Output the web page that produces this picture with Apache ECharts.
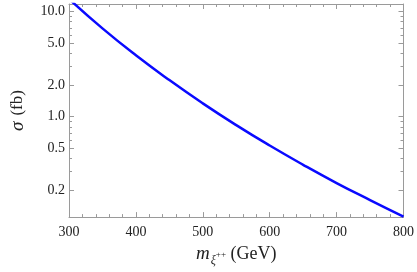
<!DOCTYPE html>
<html>
<head>
<meta charset="utf-8">
<script src="https://cdn.jsdelivr.net/npm/echarts@6/dist/echarts.min.js"></script>
<style>html,body{margin:0;padding:0;background:#fff}#c{width:417px;height:272px}</style>
</head>
<body>
<div id="c"></div>
<script>
// Data
var masses = [300, 350, 400, 450, 500, 550, 600, 650, 700, 750, 800];          // GeV
var sigma  = [13.18, 6.92, 3.84, 2.23, 1.34, 0.832, 0.532, 0.349, 0.234, 0.161, 0.112]; // fb
var yMajorTicks = [0.2, 0.5, 1, 2, 5, 10];
var yMajorLabels = ['0.2', '0.5', '1.0', '2.0', '5.0', '10.0'];
var yMinorTicks = [0.3, 0.4, 0.6, 0.7, 0.8, 0.9, 3, 4, 6, 7, 8, 9];
var xTicks = [300, 400, 500, 600, 700, 800];
var yRange = [0.111, 11.8];

var L = Math.log10;
var lineData = masses.map(function (m, i) { return [m, L(sigma[i])]; });
var majLog = yMajorTicks.map(L);
var minLog = yMinorTicks.map(L);

var axisCol = '#9a9a9a';
var font = "'Liberation Serif', 'DejaVu Serif', serif";

function yAx(pos, ticks, len, labels, line) {
  var ax = {
    type: 'value', position: pos,
    min: L(yRange[0]), max: L(yRange[1]),
    axisLine: { show: line, lineStyle: { color: axisCol, width: 1 } },
    axisTick: { show: true, inside: true, length: len, customValues: ticks, lineStyle: { color: axisCol } },
    axisLabel: { show: labels, customValues: ticks, margin: 4, color: '#222', fontFamily: font, fontSize: 14,
      formatter: function (v) {
        for (var i = 0; i < majLog.length; i++) if (Math.abs(majLog[i] - v) < 1e-6) return yMajorLabels[i];
        return '';
      } },
    splitLine: { show: false }
  };
  return ax;
}
function xAx(pos, labels) {
  return {
    type: 'value', position: pos, min: 300, max: 800, interval: 100,
    axisLine: { show: true, onZero: false, lineStyle: { color: axisCol, width: 1 } },
    axisTick: { show: true, inside: true, length: 5, lineStyle: { color: axisCol } },
    minorTick: { show: true, splitNumber: 5, length: 3, lineStyle: { color: axisCol } },
    axisLabel: { show: labels, margin: 8, color: '#222', fontFamily: font, fontSize: 14,
      formatter: function (v) { return xTicks.indexOf(v) >= 0 ? String(v) : ''; } },
    splitLine: { show: false }
  };
}

var yAxes = [
  yAx('left', majLog, 5, true, true),
  yAx('left', minLog, 3, false, false),
  yAx('right', majLog, 5, false, true),
  yAx('right', minLog, 3, false, false)
];
yAxes[0].name = '{s|σ}  {t|(fb)}';
yAxes[0].nameLocation = 'middle';
yAxes[0].nameRotate = 90;
yAxes[0].nameGap = 42;
yAxes[0].nameTextStyle = { fontFamily: font, color: '#222', rich: {
  s: { fontFamily: font, fontStyle: 'italic', fontSize: 19, color: '#222' },
  t: { fontFamily: font, fontSize: 17, color: '#222' } } };

var xAxes = [xAx('bottom', true), xAx('top', false)];
xAxes[0].name = '{m|m}{s|ξ}{p|++}{g| (GeV)}';
xAxes[0].nameLocation = 'middle';
xAxes[0].nameGap = 22;
xAxes[0].nameTextStyle = { fontFamily: font, color: '#222', rich: {
  m: { fontFamily: font, fontStyle: 'italic', fontSize: 19, color: '#222', verticalAlign: 'bottom', lineHeight: 22 },
  s: { fontFamily: font, fontStyle: 'italic', fontSize: 12, color: '#222', verticalAlign: 'bottom', lineHeight: 12, padding: [0, 0, -4, 1] },
  p: { fontFamily: font, fontSize: 9, color: '#222', verticalAlign: 'bottom', lineHeight: 9, padding: [0, 0, 4, 0] },
  g: { fontFamily: font, fontSize: 18, color: '#222', verticalAlign: 'bottom', lineHeight: 22 } } };

var chart = echarts.init(document.getElementById('c'), null, { renderer: 'canvas' });
chart.setOption({
  animation: false,
  backgroundColor: '#fff',
  grid: { left: 55, right: 11, top: 4, bottom: 52, containLabel: false },
  xAxis: xAxes,
  yAxis: yAxes,
  series: [{
    type: 'line', xAxisIndex: 0, yAxisIndex: 0,
    data: lineData, smooth: true, showSymbol: false, clip: true,
    lineStyle: { color: '#0a0aff', width: 2.5 }
  }]
});
</script>
</body>
</html>
